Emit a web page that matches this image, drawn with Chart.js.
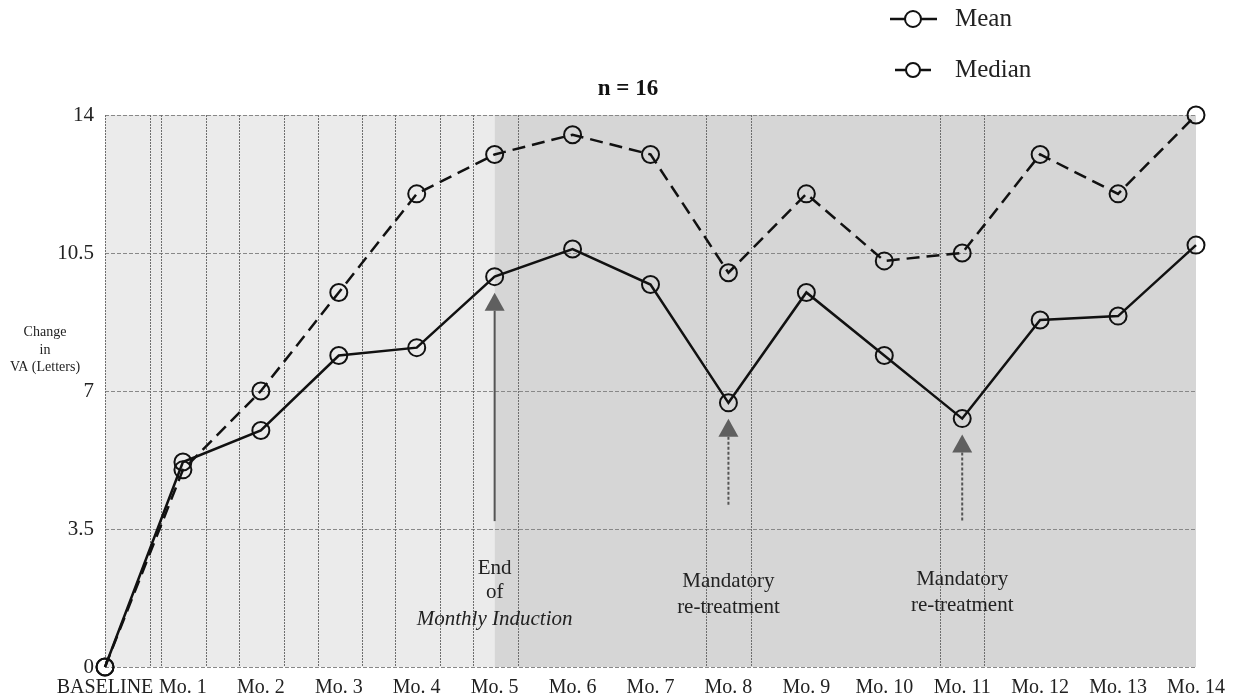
<!DOCTYPE html>
<html>
<head>
<meta charset="utf-8">
<script src="https://cdn.jsdelivr.net/npm/chart.js@4.4.1/dist/chart.umd.min.js"></script>
<style>
  html, body { margin: 0; padding: 0; background: #ffffff; }
  #wrap { width: 1236px; height: 699px; position: relative; }
</style>
</head>
<body>
<div id="wrap"><canvas id="c" width="1236" height="699"></canvas></div>
<script>
// ---- Data ----
const categories = ['BASELINE', 'Mo. 1', 'Mo. 2', 'Mo. 3', 'Mo. 4', 'Mo. 5', 'Mo. 6', 'Mo. 7',
                    'Mo. 8', 'Mo. 9', 'Mo. 10', 'Mo. 11', 'Mo. 12', 'Mo. 13', 'Mo. 14'];
const meanValues   = [0, 5.2, 6.0, 7.9, 8.1, 9.9, 10.6, 9.7, 6.7, 9.5, 7.9, 6.3, 8.8, 8.9, 10.7];
const medianValues = [0, 5.0, 7.0, 9.5, 12.0, 13.0, 13.5, 13.0, 10.0, 12.0, 10.3, 10.5, 13.0, 12.0, 14.0];
const yTicks = [0, 3.5, 7, 10.5, 14];
const titleText = 'n = 16';
const yAxisLabel = ['Change', 'in', 'VA (Letters)'];
// visit boxes (in category-index units)
const visitLines = [0.577, 0.72, 1.30, 1.72, 2.30, 2.73, 3.30, 3.72, 4.30, 4.72, 5.30, 7.71, 8.29, 10.71, 11.28];
const inductionEnd = 5.0;
// annotations: index of arrow, text lines
const annotations = [
  { at: 5,  lines: ['End', 'of', 'Monthly Induction'], italicLast: true, dashed: false },
  { at: 8,  lines: ['Mandatory', 're-treatment'], italicLast: false, dashed: true },
  { at: 11, lines: ['Mandatory', 're-treatment'], italicLast: false, dashed: true }
];

const SERIF = '"Liberation Serif", "DejaVu Serif", serif';

const decorPlugin = {
  id: 'decor',
  beforeDatasetsDraw(chart) {
    const { ctx, chartArea: ca, scales: { x, y } } = chart;
    ctx.save();
    // backgrounds
    const xEnd = x.getPixelForValue(inductionEnd);
    ctx.fillStyle = '#ebebeb';
    ctx.fillRect(ca.left, ca.top, xEnd - ca.left, ca.bottom - ca.top);
    ctx.fillStyle = '#d6d6d6';
    ctx.fillRect(xEnd, ca.top, ca.right - xEnd, ca.bottom - ca.top);
    // horizontal dashed grid
    ctx.strokeStyle = '#888';
    ctx.lineWidth = 1;
    ctx.setLineDash([4, 2]);
    yTicks.forEach(v => {
      const py = Math.round(y.getPixelForValue(v)) + 0.5;
      ctx.beginPath(); ctx.moveTo(ca.left, py); ctx.lineTo(ca.right, py); ctx.stroke();
    });
    // vertical dotted lines
    ctx.setLineDash([2, 1]);
    ctx.strokeStyle = '#6e6e6e';
    const vx = [0].concat(visitLines);
    vx.forEach(v => {
      const px = Math.round(x.getPixelForValue(v)) + 0.5;
      ctx.beginPath(); ctx.moveTo(px, ca.top); ctx.lineTo(px, ca.bottom); ctx.stroke();
    });
    ctx.setLineDash([]);
    // arrows
    annotations.forEach(a => {
      const px = x.getPixelForValue(a.at);
      const meanPx = y.getPixelForValue(meanValues[a.at]);
      const tip = meanPx + 16;
      const base = tip + 18;
      const tail = y.getPixelForValue(a.at === 8 ? 4.1 : 3.7);
      ctx.strokeStyle = '#555';
      ctx.lineWidth = 2;
      ctx.setLineDash(a.dashed ? [3, 2] : []);
      ctx.beginPath(); ctx.moveTo(px, base); ctx.lineTo(px, tail); ctx.stroke();
      ctx.setLineDash([]);
      ctx.fillStyle = '#5f5f5f';
      ctx.beginPath(); ctx.moveTo(px, tip); ctx.lineTo(px - 10, base); ctx.lineTo(px + 10, base); ctx.closePath(); ctx.fill();
    });
    // annotation texts
    ctx.fillStyle = '#222';
    ctx.textAlign = 'center';
    ctx.textBaseline = 'middle';
    const textY = { 5: [568, 592, 619], 8: [581, 607], 11: [579, 605] };
    annotations.forEach(a => {
      const px = x.getPixelForValue(a.at);
      a.lines.forEach((t, i) => {
        const it = a.italicLast && i === a.lines.length - 1;
        ctx.font = (it ? 'italic ' : '') + '21px ' + SERIF;
        ctx.fillText(t, px, textY[a.at][i]);
      });
    });
    ctx.restore();
  },
  afterDraw(chart) {
    const { ctx } = chart;
    ctx.save();
    // title
    ctx.fillStyle = '#111';
    ctx.textAlign = 'center';
    ctx.textBaseline = 'middle';
    ctx.font = 'bold 23px ' + SERIF;
    ctx.fillText(titleText, 628, 89);
    // y axis label
    ctx.font = '14px ' + SERIF;
    ctx.fillStyle = '#222';
    const ly = [332, 350, 367];
    yAxisLabel.forEach((t, i) => ctx.fillText(t, 45, ly[i]));
    // legend
    const items = [
      { label: chart.data.datasets[0].label, y: 19, x0: 890, x1: 937, cx: 913, r: 8 },
      { label: chart.data.datasets[1].label, y: 70, x0: 895, x1: 931, cx: 913, r: 7 }
    ];
    items.forEach(it => {
      ctx.strokeStyle = '#111';
      ctx.lineWidth = 2.5;
      ctx.beginPath(); ctx.moveTo(it.x0, it.y); ctx.lineTo(it.x1, it.y); ctx.stroke();
      ctx.fillStyle = '#fff';
      ctx.lineWidth = 2;
      ctx.beginPath(); ctx.arc(it.cx, it.y, it.r, 0, Math.PI * 2); ctx.fill(); ctx.stroke();
      ctx.fillStyle = '#222';
      ctx.textAlign = 'left';
      ctx.font = '25px ' + SERIF;
      ctx.fillText(it.label, 955, it.y);
    });
    ctx.restore();
  }
};

new Chart(document.getElementById('c'), {
  type: 'line',
  data: {
    labels: categories,
    datasets: [
      {
        label: 'Mean',
        data: meanValues,
        borderColor: '#111',
        borderWidth: 2.5,
        pointRadius: 8.5,
        pointBorderWidth: 2,
        pointBorderColor: '#111',
        pointBackgroundColor: 'rgba(0,0,0,0)',
        tension: 0
      },
      {
        label: 'Median',
        data: medianValues,
        borderColor: '#111',
        borderWidth: 2.5,
        borderDash: [13, 7],
        pointRadius: 8.5,
        pointBorderWidth: 2,
        pointBorderColor: '#111',
        pointBackgroundColor: 'rgba(0,0,0,0)',
        tension: 0
      }
    ]
  },
  options: {
    responsive: false,
    animation: false,
    devicePixelRatio: 1,
    layout: { padding: { left: 0, right: 40, top: 115, bottom: 0 } },
    plugins: { legend: { display: false }, tooltip: { enabled: false }, title: { display: false } },
    scales: {
      x: {
        type: 'category',
        offset: false,
        grid: { display: false, drawTicks: false },
        border: { display: false },
        ticks: {
          color: '#222',
          font: { family: SERIF, size: 20 },
          maxRotation: 0,
          autoSkip: false,
          padding: 9
        },
        afterFit(s) { s.height = 32; }
      },
      y: {
        min: 0, max: 14,
        grid: { display: false, drawTicks: false },
        border: { display: false },
        afterBuildTicks(s) { s.ticks = yTicks.map(v => ({ value: v })); },
        ticks: {
          color: '#222',
          font: { family: SERIF, size: 21 },
          padding: 11,
          callback: v => String(v)
        },
        afterFit(s) { s.width = 105; }
      }
    },
    clip: false
  },
  plugins: [decorPlugin]
});
</script>
</body>
</html>
